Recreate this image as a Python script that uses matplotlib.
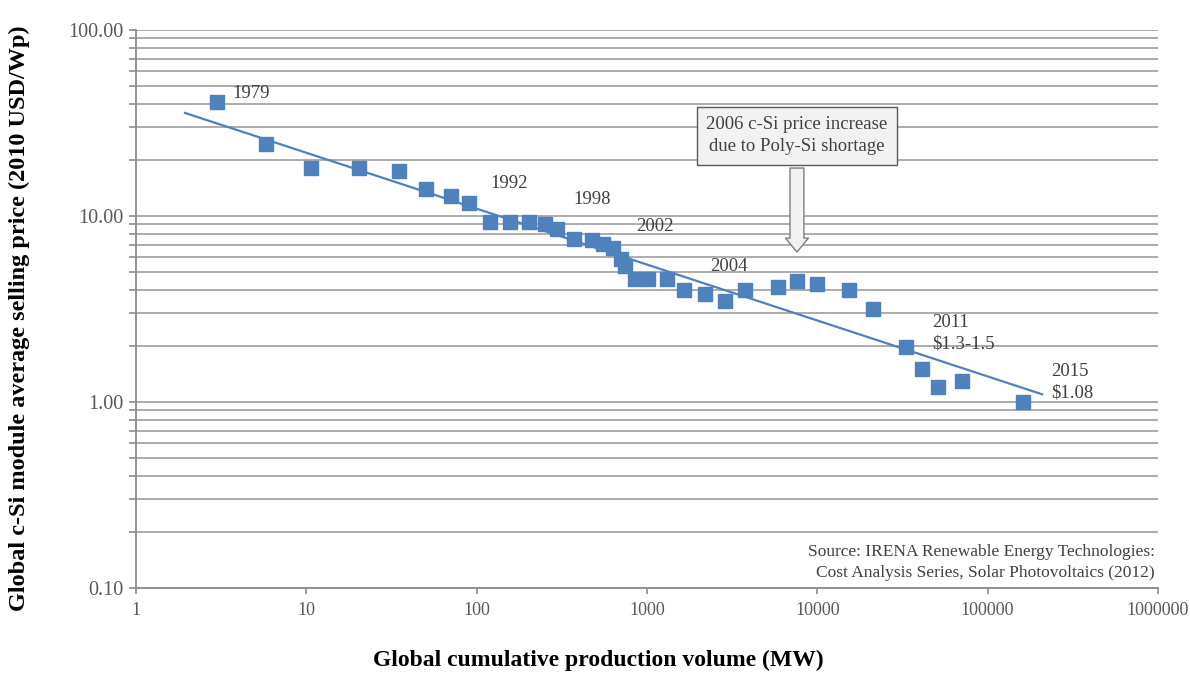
import numpy as np
import matplotlib
matplotlib.use("Agg")
import matplotlib.pyplot as plt
from matplotlib.ticker import FixedLocator, LogLocator, NullFormatter

plt.rcParams['font.family'] = ['Liberation Serif', 'DejaVu Serif']

# cumulative production (MW) and module price (2010 USD/Wp)
volume_mw = [3, 5.8, 10.7, 20.4, 35, 50.5, 71, 90, 120, 157, 203, 252, 297, 373, 476,
             552, 631, 700, 740, 851, 1015, 1312, 1652, 2193, 2876, 3767, 5888, 7600,
             9970, 15380, 21280, 33200, 41200, 51200, 70800, 161600]
price_usd = [41, 24.4, 18.1, 18.1, 17.5, 14.0, 12.8, 11.7, 9.3, 9.3, 9.3, 9.0, 8.5, 7.5, 7.4,
             7.1, 6.7, 5.9, 5.4, 4.6, 4.6, 4.6, 4.0, 3.81, 3.49, 4.0, 4.15, 4.47,
             4.3, 4.0, 3.16, 1.98, 1.50, 1.20, 1.30, 1.00]

# learning-curve trend line end points
trend_x = [1.94, 209000]
trend_y = [35.8, 1.1]

labels = ["1979", "1992", "1998", "2002", "2004", "2011", "$1.3-1.5", "2015", "$1.08"]
label_x = [3.66, 120, 368, 863, 2348, 47200, 47200, 236000, 236000]
label_y = [45.3, 15.0, 12.2, 8.73, 5.38, 2.66, 2.05, 1.45, 1.12]

x_ticks = [1, 10, 100, 1000, 10000, 100000, 1000000]
y_ticks = [0.1, 1, 10, 100]

blue = '#4f81bd'
grey = '#a6a6a6'
txt = '#404040'

fig = plt.figure(figsize=(11.9, 6.75), dpi=100)
ax = fig.add_axes([0.1143, 0.1289, 0.8587, 0.8267])

ax.set_xscale('log')
ax.set_yscale('log')
ax.set_xlim(1, 1000000)
ax.set_ylim(0.1, 100)

ax.plot(trend_x, trend_y, color=blue, lw=1.6, zorder=3)
ax.plot(volume_mw, price_usd, ls='none', marker='s', ms=10, color=blue, zorder=4)

for s, x, y in zip(labels, label_x, label_y):
    ax.text(x, y, s, fontsize=13.5, color=txt, ha='left', va='center', zorder=5)

# poly-Si shortage callout
ax.text(7600, 27.0, "2006 c-Si price increase\ndue to Poly-Si shortage", fontsize=13.5,
        color=txt, ha='center', va='center', linespacing=1.4, zorder=6,
        bbox=dict(boxstyle='square,pad=0.5', fc='#f2f2f2', ec='#595959', lw=1.0))
ax.annotate('', xy=(7600, 6.4), xytext=(7600, 18.1),
            arrowprops=dict(arrowstyle='simple,head_length=1.0,head_width=1.65,tail_width=1.0',
                            mutation_scale=10, fc='#f2f2f2', ec='#7f7f7f', lw=1.0,
                            shrinkA=0, shrinkB=0), zorder=6)

ax.text(0.997, 0.045, "Source: IRENA Renewable Energy Technologies:\nCost Analysis Series, Solar Photovoltaics (2012)",
        transform=ax.transAxes, fontsize=12.5, color=txt, ha='right', va='center',
        multialignment='right', linespacing=1.4)

# axes styling
ax.yaxis.set_major_locator(FixedLocator(y_ticks))
ax.yaxis.set_minor_locator(LogLocator(base=10, subs=np.arange(2, 10)))
ax.yaxis.set_minor_formatter(NullFormatter())
ax.set_yticklabels([f"{v:.2f}" for v in y_ticks])
ax.xaxis.set_major_locator(FixedLocator(x_ticks))
ax.xaxis.set_minor_locator(FixedLocator([]))
ax.set_xticklabels([str(v) for v in x_ticks])

ax.grid(True, which='both', axis='y', color=grey, lw=1.3, zorder=0)
ax.set_axisbelow(True)
for side in ['top', 'right']:
    ax.spines[side].set_visible(False)
for side in ['left', 'bottom']:
    ax.spines[side].set_color('#8c8c8c')
    ax.spines[side].set_linewidth(1.3)

ax.tick_params(axis='y', which='both', direction='out', length=5, width=1.2,
               color='#8c8c8c', labelsize=14.5, labelcolor='#595959', pad=4)
ax.tick_params(axis='x', which='major', direction='out', length=4, width=1.2,
               color='#8c8c8c', labelsize=13, labelcolor='#595959', pad=6)

ax.set_xlabel("Global cumulative production volume (MW)", fontsize=17, fontweight='bold',
              color='black')
ax.xaxis.set_label_coords(0.452, -0.110)
ax.set_ylabel("Global c-Si module average selling price (2010 USD/Wp)", fontsize=17.5,
              fontweight='bold', color='black')
ax.yaxis.set_label_coords(-0.1037, 0.484)

fig.savefig("out.png", dpi=100)
